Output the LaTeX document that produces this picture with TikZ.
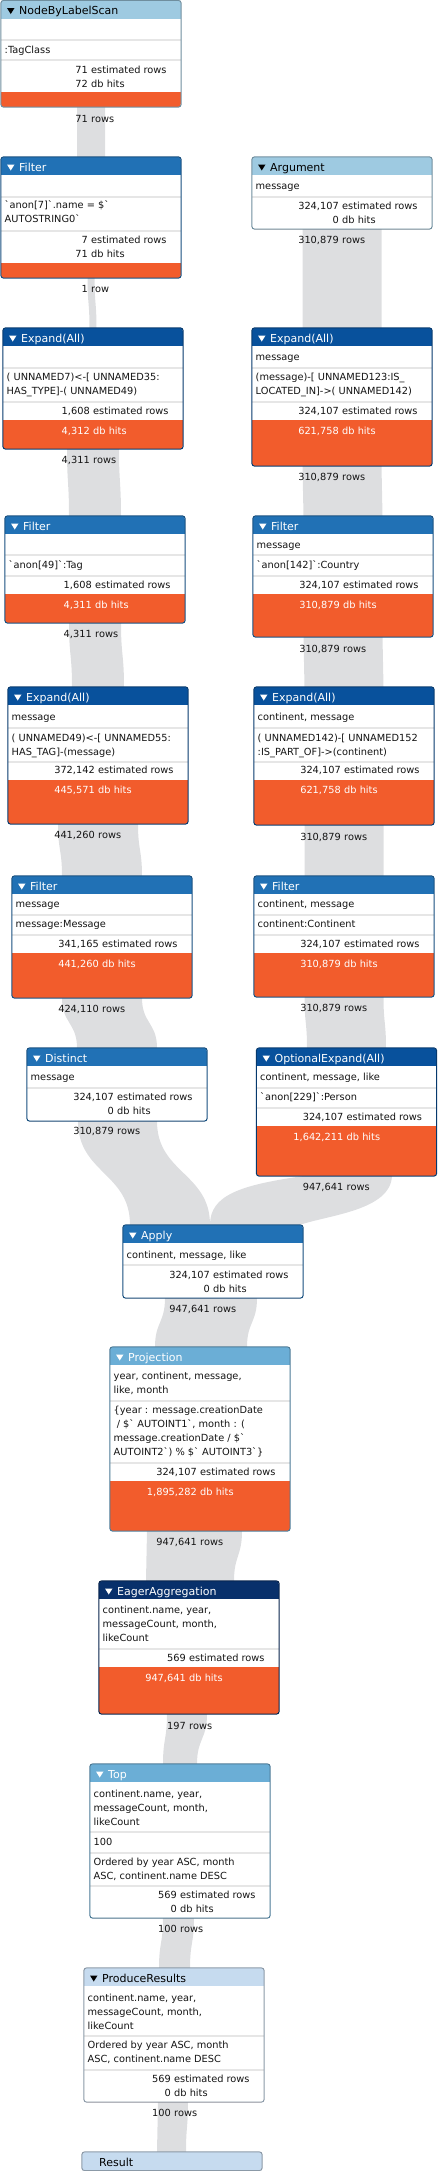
\documentclass[tikz,border=0pt]{standalone}
\usepackage{fontspec}
\setmainfont{DejaVu Sans}[Ligatures=TeXOff]
\usetikzlibrary{fit,calc}
\pgfdeclarelayer{bg}
\pgfsetlayers{bg,main}
\definecolor{hlight}{HTML}{9ECAE1}
\definecolor{hfilter}{HTML}{2171B5}
\definecolor{hexpand}{HTML}{08519C}
\definecolor{hproj}{HTML}{6BAED6}
\definecolor{heager}{HTML}{08306B}
\definecolor{hprod}{HTML}{C6DBEF}
\definecolor{cost}{HTML}{F25C2C}
\definecolor{bandc}{RGB}{221,222,224}
\definecolor{sepc}{RGB}{230,230,230}
\definecolor{txt}{RGB}{20,20,20}
\newcounter{tn}
\tikzset{
  bodytext/.style={font=\fontsize{9.8}{12}\selectfont, inner sep=0pt},
  hdrtext/.style={font=\fontsize{11}{13}\selectfont, inner sep=0pt, anchor=base west},
  band/.style={fill=bandc},
  seprule/.style={draw=sepc, line width=1.5pt},
}
% name, x0, y0, y1, header colour, orange top, title colour, title
\newcommand\opbox[8]{%
  \begin{scope}
    \clip[rounded corners=3pt] (#2,#3) rectangle (#2+180,#4);
    \fill[white] (#2,#3) rectangle (#2+180,#4);
    \fill[#5] (#2,#3) rectangle (#2+180,#3+18);
    \fill[cost] (#2,#6) rectangle (#2+180,#4);
  \end{scope}
  \node[fit={(#2,#3) (#2+180,#4)}, inner sep=0pt] (#1) {};
  \fill[#7] (#2+6,#3+7.5) -- (#2+13.5,#3+7.5) -- (#2+9.75,#3+13.5) -- cycle;
  \node[hdrtext, text=#7] (#1-title) at (#2+18,#3+14) {#8};
}
\newcommand\opborder[2]{\draw[rounded corners=3pt, #2!70!black, line width=1pt] (#1.north west) rectangle (#1.south east);}
\newcommand\rowsep[2]{\draw[seprule] (#1,#2) -- (#1+180,#2);}
\newcommand\Tline[3]{\stepcounter{tn}\node[bodytext, anchor=base west, text=txt] (t\arabic{tn}) at (#1+3.5,#2+4) {#3};}
\newcommand\Tstat[5]{\stepcounter{tn}%
  \node[bodytext, anchor=base east, text=#5] (n\arabic{tn}) at (#1+87,#2+4) {#3};
  \node[bodytext, anchor=base west, text=#5] (l\arabic{tn}) at (#1+90,#2+4) {#4};}
\newcommand\flowband[6]{%
  \fill[band] let \p1=(#1.south), \p2=(#4.north) in
    ({\x1+(#2)},\y1) .. controls ({\x1+(#2)},{0.5*(\y1)+0.5*(\y2)}) and ({\x2+(#5)},{0.5*(\y1)+0.5*(\y2)}) .. ({\x2+(#5)},\y2)
    -- ({\x2+(#6)},\y2) .. controls ({\x2+(#6)},{0.5*(\y1)+0.5*(\y2)}) and ({\x1+(#3)},{0.5*(\y1)+0.5*(\y2)}) .. ({\x1+(#3)},\y1) -- cycle;}
\begin{document}
\begin{tikzpicture}[x=1pt,y=-1pt]
\useasboundingbox (0,0) rectangle (437,2171);

% ---------- NodeByLabelScan
\opbox{nbls}{1}{0.5}{107}{hlight}{92}{black}{NodeByLabelScan}
\rowsep{1}{40}\rowsep{1}{60}
\Tline{1}{49.5}{:TagClass}
\Tstat{1}{69}{71}{estimated rows}{txt}
\Tstat{1}{83}{72}{db hits}{txt}
\opborder{nbls}{hlight}
\Tstat{1}{118}{71}{rows}{txt}

% ---------- Filter 1
\opbox{fa}{1}{157}{278}{hfilter}{263}{white}{Filter}
\rowsep{1}{197}\rowsep{1}{231}
\Tline{1}{204}{`anon[7]`.name = \$`}
\Tline{1}{218.5}{AUTOSTRING0`}
\Tstat{1}{239}{7}{estimated rows}{txt}
\Tstat{1}{253}{71}{db hits}{txt}
\opborder{fa}{hfilter}
\Tstat{1}{288}{1}{row}{txt}

% ---------- Argument
\opbox{arg}{252}{157}{229}{hlight}{229}{black}{Argument}
\rowsep{252}{197}
\Tline{252}{185}{message}
\Tstat{252}{205}{324,107}{estimated rows}{txt}
\Tstat{252}{219}{0}{db hits}{txt}
\opborder{arg}{hlight}
\Tstat{252}{239}{310,879}{rows}{txt}

% ---------- Expand left 1
\opbox{ea}{3}{328}{449}{hexpand}{420}{white}{Expand(All)}
\rowsep{3}{368}\rowsep{3}{402}
\Tline{3}{376}{( UNNAMED7)<-[ UNNAMED35:}
\Tline{3}{390}{HAS\_TYPE]-( UNNAMED49)}
\Tstat{3}{410}{1,608}{estimated rows}{txt}
\Tstat{3}{430}{4,312}{db hits}{white}
\opborder{ea}{hexpand}
\Tstat{3}{459}{4,311}{rows}{txt}

% ---------- Expand right 1
\opbox{eb}{252}{328}{466}{hexpand}{420}{white}{Expand(All)}
\rowsep{252}{368}\rowsep{252}{402}
\Tline{252}{356}{message}
\Tline{252}{376}{(message)-[ UNNAMED123:IS\_}
\Tline{252}{390}{LOCATED\_IN]->( UNNAMED142)}
\Tstat{252}{410}{324,107}{estimated rows}{txt}
\Tstat{252}{430}{621,758}{db hits}{white}
\opborder{eb}{hexpand}
\Tstat{252}{476}{310,879}{rows}{txt}

% ---------- Filter left 2
\opbox{fb}{5}{516}{623}{hfilter}{594}{white}{Filter}
\rowsep{5}{555}\rowsep{5}{576}
\Tline{5}{564}{`anon[49]`:Tag}
\Tstat{5}{584}{1,608}{estimated rows}{txt}
\Tstat{5}{604}{4,311}{db hits}{white}
\opborder{fb}{hfilter}
\Tstat{5}{633}{4,311}{rows}{txt}

% ---------- Filter right 2
\opbox{fc}{253}{516}{637}{hfilter}{594}{white}{Filter}
\rowsep{253}{555}\rowsep{253}{576}
\Tline{253}{544}{message}
\Tline{253}{564}{`anon[142]`:Country}
\Tstat{253}{584}{324,107}{estimated rows}{txt}
\Tstat{253}{604}{310,879}{db hits}{white}
\opborder{fc}{hfilter}
\Tstat{253}{648}{310,879}{rows}{txt}

% ---------- Expand left 2
\opbox{ec}{8}{687}{824}{hexpand}{780}{white}{Expand(All)}
\rowsep{8}{728}\rowsep{8}{762}
\Tline{8}{716}{message}
\Tline{8}{737}{( UNNAMED49)<-[ UNNAMED55:}
\Tline{8}{751}{HAS\_TAG]-(message)}
\Tstat{8}{769}{372,142}{estimated rows}{txt}
\Tstat{8}{789}{445,571}{db hits}{white}
\opborder{ec}{hexpand}
\Tstat{8}{834}{441,260}{rows}{txt}

% ---------- Expand right 2
\opbox{ed}{254}{687}{825}{hexpand}{780}{white}{Expand(All)}
\rowsep{254}{728}\rowsep{254}{762}
\Tline{254}{716}{continent, message}
\Tline{254}{737}{( UNNAMED142)-[ UNNAMED152}
\Tline{254}{751}{:IS\_PART\_OF]->(continent)}
\Tstat{254}{769}{324,107}{estimated rows}{txt}
\Tstat{254}{789}{621,758}{db hits}{white}
\opborder{ed}{hexpand}
\Tstat{254}{836}{310,879}{rows}{txt}

% ---------- Filter left 3
\opbox{fd}{12}{876}{998}{hfilter}{953}{white}{Filter}
\rowsep{12}{915}\rowsep{12}{935}
\Tline{12}{903}{message}
\Tline{12}{923}{message:Message}
\Tstat{12}{943}{341,165}{estimated rows}{txt}
\Tstat{12}{963}{441,260}{db hits}{white}
\opborder{fd}{hfilter}
\Tstat{12}{1008}{424,110}{rows}{txt}

% ---------- Filter right 3
\opbox{fe}{254}{876}{997}{hfilter}{953}{white}{Filter}
\rowsep{254}{915}\rowsep{254}{935}
\Tline{254}{903}{continent, message}
\Tline{254}{923}{continent:Continent}
\Tstat{254}{943}{324,107}{estimated rows}{txt}
\Tstat{254}{963}{310,879}{db hits}{white}
\opborder{fe}{hfilter}
\Tstat{254}{1007}{310,879}{rows}{txt}

% ---------- Distinct
\opbox{dist}{27}{1048}{1121}{hfilter}{1121}{white}{Distinct}
\rowsep{27}{1088}
\Tline{27}{1076}{message}
\Tstat{27}{1096}{324,107}{estimated rows}{txt}
\Tstat{27}{1110}{0}{db hits}{txt}
\opborder{dist}{hfilter}
\Tstat{27}{1130}{310,879}{rows}{txt}

% ---------- OptionalExpand
\opbox{oe}{256.5}{1048}{1176}{hexpand}{1126}{white}{OptionalExpand(All)}
\rowsep{256.5}{1088}\rowsep{256.5}{1108}
\Tline{256.5}{1076}{continent, message, like}
\Tline{256.5}{1096}{`anon[229]`:Person}
\Tstat{256.5}{1116}{324,107}{estimated rows}{txt}
\Tstat{256.5}{1136}{1,642,211}{db hits}{white}
\opborder{oe}{hexpand}
\Tstat{256.5}{1186}{947,641}{rows}{txt}

% ---------- Apply
\opbox{apply}{123}{1225}{1298}{hfilter}{1298}{white}{Apply}
\rowsep{123}{1265}
\Tline{123}{1254}{continent, message, like}
\Tstat{123}{1274}{324,107}{estimated rows}{txt}
\Tstat{123}{1288}{0}{db hits}{txt}
\opborder{apply}{hfilter}
\Tstat{123}{1308}{947,641}{rows}{txt}

% ---------- Projection
\opbox{proj}{110}{1347}{1531}{hproj}{1481}{white}{Projection}
\rowsep{110}{1401}\rowsep{110}{1463}
\Tline{110}{1375}{year, continent, message,}
\Tline{110}{1389}{like, month}
\Tline{110}{1409}{\{year : message.creationDate}
\Tline{110}{1423}{\ / \$` AUTOINT1`, month : (}
\Tline{110}{1437}{message.creationDate / \$`}
\Tline{110}{1451}{AUTOINT2`) \% \$` AUTOINT3`\}}
\Tstat{110}{1471}{324,107}{estimated rows}{txt}
\Tstat{110}{1491}{1,895,282}{db hits}{white}
\opborder{proj}{hproj}
\Tstat{110}{1541}{947,641}{rows}{txt}

% ---------- EagerAggregation
\opbox{eager}{99}{1581}{1714}{heager}{1667}{white}{EagerAggregation}
\rowsep{99}{1649}
\Tline{99}{1609}{continent.name, year,}
\Tline{99}{1623}{messageCount, month,}
\Tline{99}{1637}{likeCount}
\Tstat{99}{1657}{569}{estimated rows}{txt}
\Tstat{99}{1677}{947,641}{db hits}{white}
\opborder{eager}{heager}
\Tstat{99}{1725}{197}{rows}{txt}

% ---------- Top
\opbox{top}{90}{1764}{1918}{hproj}{1918}{white}{Top}
\rowsep{90}{1832}\rowsep{90}{1853}\rowsep{90}{1886}
\Tline{90}{1793}{continent.name, year,}
\Tline{90}{1807}{messageCount, month,}
\Tline{90}{1821}{likeCount}
\Tline{90}{1841}{100}
\Tline{90}{1861}{Ordered by year ASC, month}
\Tline{90}{1875}{ASC, continent.name DESC}
\Tstat{90}{1894}{569}{estimated rows}{txt}
\Tstat{90}{1908}{0}{db hits}{txt}
\opborder{top}{hproj}
\Tstat{90}{1928}{100}{rows}{txt}

% ---------- ProduceResults
\opbox{pr}{84}{1968}{2102}{hprod}{2102}{black}{ProduceResults}
\rowsep{84}{2036}\rowsep{84}{2070}
\Tline{84}{1997}{continent.name, year,}
\Tline{84}{2011}{messageCount, month,}
\Tline{84}{2025}{likeCount}
\Tline{84}{2044}{Ordered by year ASC, month}
\Tline{84}{2058}{ASC, continent.name DESC}
\Tstat{84}{2078}{569}{estimated rows}{txt}
\Tstat{84}{2092}{0}{db hits}{txt}
\opborder{pr}{hprod}
\Tstat{84}{2112}{100}{rows}{txt}

% ---------- Result
\fill[hprod, rounded corners=3pt] (82,2152) rectangle (262,2170.5);
\node[fit={(82,2152) (262,2170.5)}, inner sep=0pt] (res) {};
\opborder{res}{hprod}
\node[hdrtext, text=black] (res-title) at (99,2166) {Result};

% ---------- flow bands (behind)
\begin{pgfonlayer}{bg}
\flowband{nbls}{-14}{14}{fa}{-14}{14}
\flowband{fa}{-3.5}{3.5}{ea}{-3.5}{3.5}
\flowband{ea}{-26}{26}{fb}{-26}{26}
\flowband{fb}{-26}{26}{ec}{-26}{26}
\flowband{ec}{-40}{40}{fd}{-40}{40}
\flowband{fd}{-40}{40}{dist}{-40}{40}
\flowband{dist}{-39}{40}{apply}{-83}{-3}
\flowband{arg}{-39.5}{39.5}{eb}{-39.5}{39.5}
\flowband{eb}{-39.5}{39.5}{fc}{-39.5}{39.5}
\flowband{fc}{-39.5}{39.5}{ed}{-39.5}{39.5}
\flowband{ed}{-39.5}{39.5}{fe}{-39.5}{39.5}
\flowband{fe}{-39.5}{39.5}{oe}{-39.5}{39.5}
\fill[band] let \p1=(oe.south), \p2=(apply.north) in
  ({\x1-44.5},\y1) .. controls ({\x1-106.5},{\y1-9}) and ({\x2-3},{\y1-19}) .. ({\x2-3},\y2)
  -- ({\x2+87},\y2) .. controls ({\x2+117},{\y2+10}) and ({\x1+43.5},{\y1-34}) .. ({\x1+45.5},\y1) -- cycle;
\flowband{apply}{-48}{44}{proj}{-45}{47}
\flowband{proj}{-53}{42}{eager}{-43}{45}
\flowband{eager}{-22}{18}{top}{-17}{17}
\flowband{top}{-17}{14}{pr}{-15}{16}
\flowband{pr}{-16}{14}{res}{-15}{14}
\end{pgfonlayer}
\end{tikzpicture}
\end{document}
